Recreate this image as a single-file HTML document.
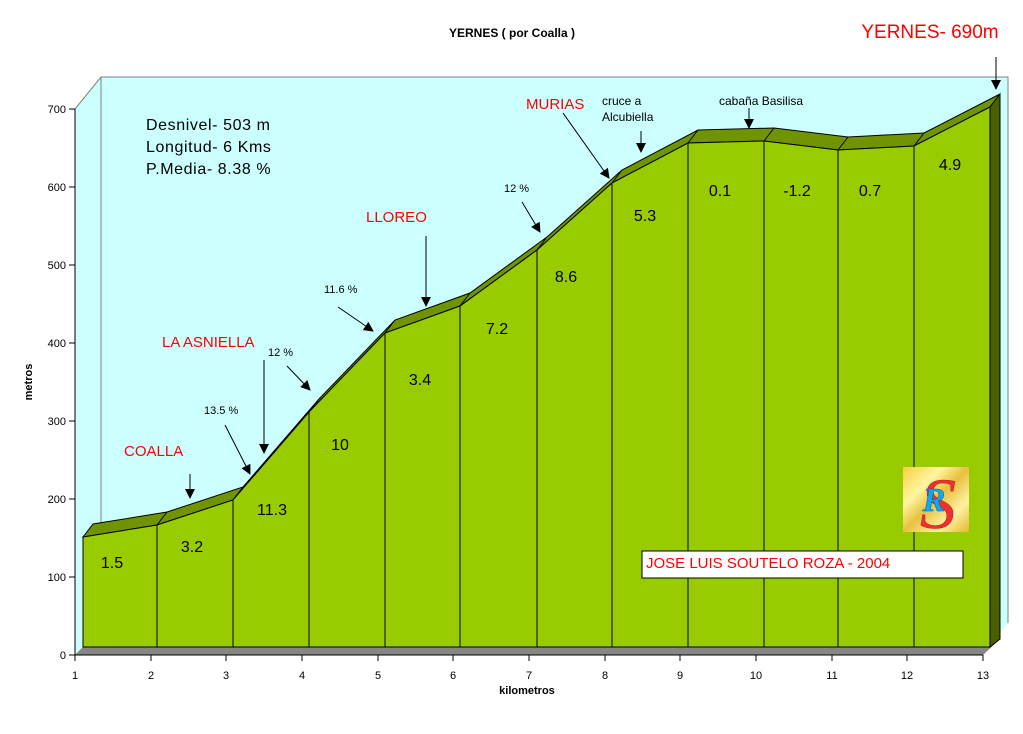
<!DOCTYPE html>
<html><head><meta charset="utf-8"><style>
html,body{margin:0;padding:0;background:#fff;}
svg{display:block;font-family:"Liberation Sans",Arial,sans-serif;}
</style></head><body>
<svg width="1023" height="734" viewBox="0 0 1023 734" xmlns="http://www.w3.org/2000/svg">
<defs>
<marker id="ah" viewBox="0 0 10 10" refX="9" refY="5" markerWidth="10" markerHeight="10" markerUnits="userSpaceOnUse" orient="auto"><path d="M0,0L10,5L0,10z" fill="#000"/></marker>
<linearGradient id="gold" x1="0" y1="0" x2="1" y2="1"><stop offset="0" stop-color="#f5d040"/><stop offset=".3" stop-color="#fff6a0"/><stop offset=".5" stop-color="#e8c040"/><stop offset=".75" stop-color="#fff0a0"/><stop offset="1" stop-color="#e0b830"/></linearGradient>
</defs>
<polygon points="75,109 101,77 1008,77 1008,623 983,655 75,655" fill="#ccffff"/>
<polyline points="75,109 101,77 1008,77 1008,623" fill="none" stroke="#808080" stroke-width="1"/>
<line x1="101" y1="77" x2="101" y2="630" stroke="#808080"/>
<polygon points="75,655 983,655 1000,639 83,639 83,647" fill="#868686"/>
<polygon points="75,655 83,647 990,647 983,655" fill="#868686"/>
<polygon points="83,537 157,525 233,500 309,412 385,333 460,306 537,250 612,183 688,143 764,141 838,150 914,146 990,107 1000,94 924,133 848,137 774,128 698,130 622,170 547,237 470,293 395,320 319,399 243,487 167,512 93,524" fill="#6f9400" stroke="#000" stroke-width="1"/>
<polygon points="83,647 83,537 157,525 233,500 309,412 385,333 460,306 537,250 612,183 688,143 764,141 838,150 914,146 990,107 990,647" fill="#99cc00" stroke="#000" stroke-width="1"/>
<polygon points="990,107 1000,94 1000,639 990,647" fill="#4a5f00" stroke="#000" stroke-width="1"/>
<g stroke="#000" stroke-width="1">
<line x1="157" y1="525" x2="157" y2="647"/><line x1="157" y1="525" x2="167" y2="512"/>
<line x1="233" y1="500" x2="233" y2="647"/><line x1="233" y1="500" x2="243" y2="487"/>
<line x1="309" y1="412" x2="309" y2="647"/><line x1="309" y1="412" x2="319" y2="399"/>
<line x1="385" y1="333" x2="385" y2="647"/><line x1="385" y1="333" x2="395" y2="320"/>
<line x1="460" y1="306" x2="460" y2="647"/><line x1="460" y1="306" x2="470" y2="293"/>
<line x1="537" y1="250" x2="537" y2="647"/><line x1="537" y1="250" x2="547" y2="237"/>
<line x1="612" y1="183" x2="612" y2="647"/><line x1="612" y1="183" x2="622" y2="170"/>
<line x1="688" y1="143" x2="688" y2="647"/><line x1="688" y1="143" x2="698" y2="130"/>
<line x1="764" y1="141" x2="764" y2="647"/><line x1="764" y1="141" x2="774" y2="128"/>
<line x1="838" y1="150" x2="838" y2="647"/><line x1="838" y1="150" x2="848" y2="137"/>
<line x1="914" y1="146" x2="914" y2="647"/><line x1="914" y1="146" x2="924" y2="133"/>
</g>
<g stroke="#000" stroke-width="1">
<line x1="75" y1="109" x2="75" y2="655"/><line x1="75" y1="655" x2="983" y2="655"/>
<line x1="69" y1="655" x2="75" y2="655"/><line x1="69" y1="577" x2="75" y2="577"/><line x1="69" y1="499" x2="75" y2="499"/><line x1="69" y1="421" x2="75" y2="421"/><line x1="69" y1="343" x2="75" y2="343"/><line x1="69" y1="265" x2="75" y2="265"/><line x1="69" y1="187" x2="75" y2="187"/><line x1="69" y1="109" x2="75" y2="109"/>
<line x1="75" y1="655" x2="75" y2="661"/><line x1="151" y1="655" x2="151" y2="661"/><line x1="226" y1="655" x2="226" y2="661"/><line x1="302" y1="655" x2="302" y2="661"/><line x1="378" y1="655" x2="378" y2="661"/><line x1="453" y1="655" x2="453" y2="661"/><line x1="529" y1="655" x2="529" y2="661"/><line x1="605" y1="655" x2="605" y2="661"/><line x1="680" y1="655" x2="680" y2="661"/><line x1="756" y1="655" x2="756" y2="661"/><line x1="832" y1="655" x2="832" y2="661"/><line x1="907" y1="655" x2="907" y2="661"/><line x1="983" y1="655" x2="983" y2="661"/>
</g>
<g font-size="11" text-anchor="end">
<text x="66" y="659">0</text><text x="66" y="581">100</text><text x="66" y="503">200</text><text x="66" y="425">300</text><text x="66" y="347">400</text><text x="66" y="269">500</text><text x="66" y="191">600</text><text x="66" y="113">700</text>
</g>
<g font-size="11" text-anchor="middle">
<text x="75" y="679">1</text><text x="151" y="679">2</text><text x="226" y="679">3</text><text x="302" y="679">4</text><text x="378" y="679">5</text><text x="453" y="679">6</text><text x="529" y="679">7</text><text x="605" y="679">8</text><text x="680" y="679">9</text><text x="756" y="679">10</text><text x="832" y="679">11</text><text x="907" y="679">12</text><text x="983" y="679">13</text>
</g>
<text x="527" y="694" font-size="11" font-weight="bold" text-anchor="middle">kilometros</text>
<text transform="translate(32,382) rotate(-90)" font-size="11" font-weight="bold" text-anchor="middle">metros</text>
<text x="512" y="37" font-size="12" font-weight="bold" text-anchor="middle">YERNES ( por Coalla )</text>
<text x="930" y="38" font-size="19" fill="#ff0000" text-anchor="middle">YERNES- 690m</text>
<g font-size="16" letter-spacing="0.6">
<text x="146" y="130">Desnivel- 503 m</text>
<text x="146" y="152">Longitud- 6 Kms</text>
<text x="146" y="174">P.Media- 8.38 %</text>
</g>
<g font-size="16" text-anchor="middle">
<text x="112" y="568">1.5</text><text x="192" y="552">3.2</text><text x="272" y="515">11.3</text><text x="340" y="450">10</text><text x="420" y="385">3.4</text><text x="497" y="334">7.2</text><text x="566" y="282">8.6</text><text x="645" y="221">5.3</text><text x="720" y="196">0.1</text><text x="797" y="196">-1.2</text><text x="870" y="196">0.7</text><text x="950" y="170">4.9</text>
</g>
<g font-size="15" fill="#ff0000">
<text x="124" y="456">COALLA</text>
<text x="162" y="347">LA ASNIELLA</text>
<text x="366" y="222">LLOREO</text>
<text x="526" y="109">MURIAS</text>
</g>
<g font-size="12">
<text x="602" y="105">cruce a</text>
<text x="602" y="121">Alcubiella</text>
<text x="719" y="105">cabaña Basilisa</text>
</g>
<g font-size="11">
<text x="204" y="414">13.5 %</text>
<text x="268" y="356">12 %</text>
<text x="324" y="293">11.6 %</text>
<text x="504" y="192">12 %</text>
</g>
<g stroke="#000" stroke-width="1" fill="none" marker-end="url(#ah)">
<line x1="190" y1="474" x2="190" y2="498"/>
<line x1="264" y1="360" x2="264" y2="453"/>
<line x1="225" y1="425" x2="250" y2="474"/>
<line x1="287" y1="366" x2="310" y2="390"/>
<line x1="338" y1="307" x2="373" y2="331"/>
<line x1="426" y1="236" x2="426" y2="306"/>
<line x1="522" y1="202" x2="540" y2="232"/>
<line x1="563" y1="113" x2="609" y2="178"/>
<line x1="641" y1="131" x2="641" y2="152"/>
<line x1="749" y1="108" x2="749" y2="128"/>
<line x1="996" y1="57" x2="996" y2="89"/>
</g>
<rect x="642" y="551" width="321" height="27" fill="#fff" stroke="#000"/>
<text x="646" y="568" font-size="15" fill="#ff0000">JOSE LUIS SOUTELO ROZA - 2004</text>
<rect x="903" y="467" width="66" height="65" fill="url(#gold)"/>
<text x="938" y="528" font-size="72" font-family="Liberation Serif,serif" fill="#ee3030" stroke="#b02020" stroke-width="0.5" text-anchor="middle" font-style="italic">S</text>
<text x="934" y="511" font-size="34" font-family="Liberation Serif,serif" fill="#10a8f0" stroke="#0060a0" stroke-width="0.5" font-weight="bold" text-anchor="middle" font-style="italic">R</text>
</svg>
</body></html>
